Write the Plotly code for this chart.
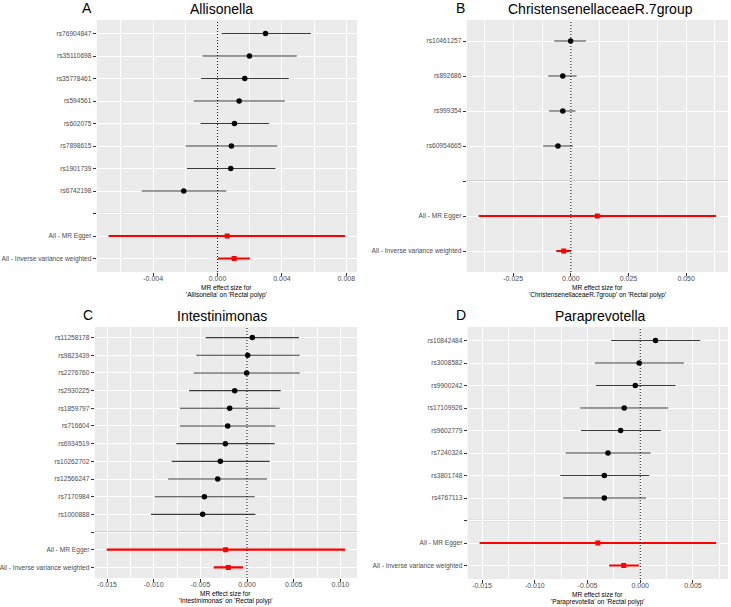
import plotly.graph_objects as go

# ---------------- data ----------------
A_snps = ["rs76904847", "rs35110698", "rs35778461", "rs594561", "rs602075", "rs7898615", "rs1901739", "rs6742198"]
A_b    = [0.00298, 0.00198, 0.00169, 0.00134, 0.00105, 0.00086, 0.00082, -0.00210]
A_lo   = [0.00025, -0.00093, -0.00103, -0.00148, -0.00105, -0.00198, -0.00191, -0.00471]
A_hi   = [0.00580, 0.00492, 0.00443, 0.00418, 0.00319, 0.00371, 0.00360, 0.00054]
A_mb   = [0.00060, 0.00103]
A_mlo  = [-0.00677, 0.00002]
A_mhi  = [0.00793, 0.00201]

B_snps = ["rs10461257", "rs892686", "rs999354", "rs60954665"]
B_b    = [-0.0001, -0.0035, -0.0035, -0.0056]
B_lo   = [-0.0072, -0.0098, -0.0094, -0.0120]
B_hi   = [0.0066, 0.0025, 0.0020, 0.0009]
B_mb   = [0.0115, -0.0031]
B_mlo  = [-0.0400, -0.0063]
B_mhi  = [0.0630, 0.0000]

C_snps = ["rs11258178", "rs9823439", "rs2276760", "rs2930225", "rs1859797", "rs716604",
          "rs6934519", "rs10262702", "rs12566247", "rs7170984", "rs1000888"]
C_b    = [0.00057, 0.00007, -0.00004, -0.00132, -0.00186, -0.00207, -0.00232, -0.00286, -0.00314, -0.00457, -0.00475]
C_lo   = [-0.00443, -0.00543, -0.00571, -0.00621, -0.00718, -0.00718, -0.00757, -0.00807, -0.00846, -0.00989, -0.01029]
C_hi   = [0.00557, 0.00564, 0.00564, 0.00361, 0.00350, 0.00304, 0.00296, 0.00243, 0.00214, 0.00082, 0.00089]
C_mb   = [-0.00229, -0.00200]
C_mlo  = [-0.01504, -0.00357]
C_mhi  = [0.01051, -0.00043]

D_snps = ["rs10842484", "rs3008582", "rs9900242", "rs17109926", "rs9602779", "rs7240324", "rs3801748", "rs4767113"]
D_b    = [0.00145, -0.00010, -0.00047, -0.00152, -0.00186, -0.00306, -0.00341, -0.00341]
D_lo   = [-0.00275, -0.00430, -0.00420, -0.00569, -0.00562, -0.00708, -0.00758, -0.00730]
D_hi   = [0.00569, 0.00414, 0.00335, 0.00265, 0.00196, 0.00098, 0.00085, 0.00054]
D_mb   = [-0.00402, -0.00157]
D_mlo  = [-0.01524, -0.00295]
D_mhi  = [0.00720, -0.00013]

methods = ["All - MR Egger", "All - Inverse variance weighted"]

A_ticks = [-0.004, 0.0, 0.004, 0.008]
A_minor = [-0.006, -0.002, 0.002, 0.006]
B_ticks = [-0.025, 0.0, 0.025, 0.050]
B_minor = [-0.0375, -0.0125, 0.0125, 0.0375, 0.0625]
C_ticks = [-0.015, -0.010, -0.005, 0.0, 0.005, 0.010]
C_minor = [-0.0125, -0.0075, -0.0025, 0.0025, 0.0075]
D_ticks = [-0.015, -0.010, -0.005, 0.0, 0.005]
D_minor = [-0.0125, -0.0075, -0.0025, 0.0025, 0.0075]

W, H = 731, 607
panels = [
    dict(letter="A", title="Allisonella", snps=A_snps, b=A_b, lo=A_lo, hi=A_hi,
         mb=A_mb, mlo=A_mlo, mhi=A_mhi, ticks=A_ticks, minor=A_minor,
         px=(95, 356), py=(20, 272), tx=220, lx=85),
    dict(letter="B", title="ChristensenellaceaeR.7group", snps=B_snps, b=B_b, lo=B_lo, hi=B_hi,
         mb=B_mb, mlo=B_mlo, mhi=B_mhi, ticks=B_ticks, minor=B_minor,
         px=(466, 728), py=(20, 272), tx=600, lx=460),
    dict(letter="C", title="Intestinimonas", snps=C_snps, b=C_b, lo=C_lo, hi=C_hi,
         mb=C_mb, mlo=C_mlo, mhi=C_mhi, ticks=C_ticks, minor=C_minor,
         px=(93, 356), py=(327, 578), tx=221, lx=86),
    dict(letter="D", title="Paraprevotella", snps=D_snps, b=D_b, lo=D_lo, hi=D_hi,
         mb=D_mb, mlo=D_mlo, mhi=D_mhi, ticks=D_ticks, minor=D_minor,
         px=(467, 728), py=(327, 579), tx=600, lx=460),
]

def fx(px):
    return px / W

def fy(py):
    return 1 - py / H

FONT = "Liberation Sans, Arial, Helvetica, sans-serif"
fig = go.Figure()
annotations = []
shapes = []

for i, p in enumerate(panels):
    k = "" if i == 0 else str(i + 1)
    xa, ya = "x" + k, "y" + k
    ns = len(p["snps"])
    labels = p["snps"] + [""] + methods
    ypos = list(range(1, len(labels) + 1))
    snp_y = ypos[:ns]
    sep_y = ypos[ns]
    m_y = ypos[ns + 1:]

    fig.add_trace(go.Scatter(
        x=p["b"], y=snp_y, xaxis=xa, yaxis=ya, mode="markers",
        marker=dict(color="black", size=5.5),
        error_x=dict(type="data", symmetric=False,
                     array=[h - b for h, b in zip(p["hi"], p["b"])],
                     arrayminus=[b - l for b, l in zip(p["b"], p["lo"])],
                     color="#3c3c3c", thickness=1.1, width=0),
        showlegend=False, hoverinfo="skip"))
    fig.add_trace(go.Scatter(
        x=p["mb"], y=m_y, xaxis=xa, yaxis=ya, mode="markers",
        marker=dict(color="red", size=5, symbol="square"),
        error_x=dict(type="data", symmetric=False,
                     array=[h - b for h, b in zip(p["mhi"], p["mb"])],
                     arrayminus=[b - l for b, l in zip(p["mb"], p["mlo"])],
                     color="red", thickness=2.2, width=0),
        showlegend=False, hoverinfo="skip"))

    allx = p["lo"] + p["hi"] + p["mlo"] + p["mhi"]
    mn, mx = min(allx), max(allx)
    span = mx - mn
    xr = [mn - 0.05 * span, mx + 0.05 * span]

    xd = [fx(p["px"][0]), fx(p["px"][1])]
    yd = [fy(p["py"][1]), fy(p["py"][0])]
    fig.layout["xaxis" + k] = dict(
        domain=xd, anchor=ya, range=xr, tickmode="array",
        tickvals=p["ticks"], ticktext=["%.3f" % t for t in p["ticks"]],
        showgrid=True, gridcolor="white", gridwidth=1.1, zeroline=False,
        ticks="outside", ticklen=3, tickcolor="#333333", tickwidth=1,
        ticklabelstandoff=-3,
        tickfont=dict(family=FONT, size=7, color="#4d4d4d"),
        minor=dict(tickvals=p["minor"], showgrid=True, gridcolor="white", gridwidth=0.5, ticks=""),
        showline=False, fixedrange=True)
    fig.layout["yaxis" + k] = dict(
        domain=yd, anchor=xa, range=[len(labels) + 0.6, 0.4],
        tickmode="array", tickvals=ypos, ticktext=labels,
        showgrid=True, gridcolor="white", gridwidth=1.1, zeroline=False,
        ticks="outside", ticklen=3, tickcolor="#333333", tickwidth=1,
        tickfont=dict(family=FONT, size=6.6, color="#4d4d4d"),
        showline=False, fixedrange=True)

    shapes.append(dict(type="line", xref=xa, yref=ya + " domain", x0=0, x1=0, y0=0, y1=1,
                       line=dict(color="black", width=1, dash="1px,2px"), layer="above"))
    shapes.append(dict(type="line", xref=xa + " domain", yref=ya, x0=0, x1=1, y0=sep_y, y1=sep_y,
                       line=dict(color="#c4c4c4", width=1.6), layer="below"))

    xc = (xd[0] + xd[1]) / 2
    annotations.append(dict(text=p["title"], x=fx(p["tx"]), y=fy(p["py"][0] - 11), xref="paper", yref="paper",
                            xanchor="center", yanchor="middle", showarrow=False,
                            font=dict(family=FONT, size=14, color="black")))
    annotations.append(dict(text=p["letter"], x=fx(p["lx"]), y=fy(p["py"][0] - 12), xref="paper", yref="paper",
                            xanchor="center", yanchor="middle", showarrow=False,
                            font=dict(family=FONT, size=14, color="black")))
    annotations.append(dict(text="MR effect size for",
                            x=xc, y=fy(p["py"][1] + 15), xref="paper", yref="paper",
                            xanchor="center", yanchor="middle", showarrow=False,
                            font=dict(family=FONT, size=6.5, color="black")))
    annotations.append(dict(text="'%s' on 'Rectal polyp'" % p["title"],
                            x=xc, y=fy(p["py"][1] + 22.5), xref="paper", yref="paper",
                            xanchor="center", yanchor="middle", showarrow=False,
                            font=dict(family=FONT, size=6.5, color="black")))

fig.update_layout(
    width=W, height=H, margin=dict(l=0, r=0, t=0, b=0),
    paper_bgcolor="white", plot_bgcolor="#ebebeb",
    annotations=annotations, shapes=shapes, showlegend=False,
)
fig.write_html("out.html", config={"displayModeBar": False})
